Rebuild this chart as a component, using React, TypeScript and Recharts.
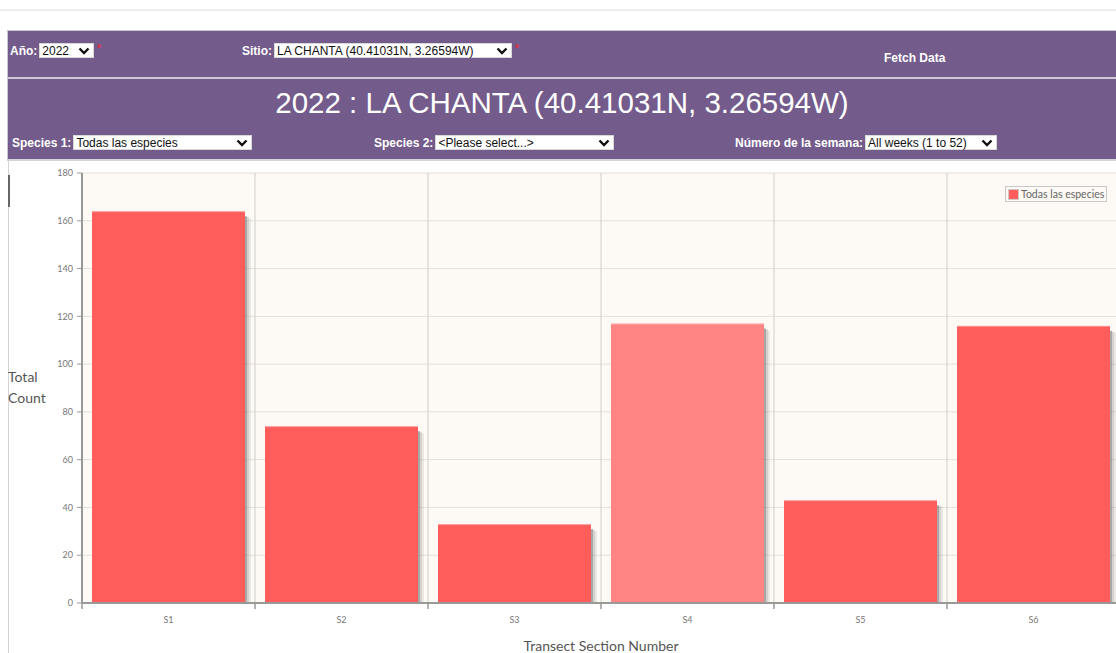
import React from "react";
import {
  BarChart,
  Bar,
  XAxis,
  YAxis,
  CartesianGrid,
  Cell,
} from "recharts";

const sections = ["S1", "S2", "S3", "S4", "S5", "S6"];
const totals = [164, 74, 33, 117, 43, 116];
const yTicks = [0, 20, 40, 60, 80, 100, 120, 140, 160, 180];
const seriesName = "Todas las especies";

const data = sections.map((s, i) => ({ section: s, total: totals[i] }));

const PURPLE = "#735b8b";
const BAR = "#ff5c5c";
const BAR_HI = "#ff8585";

const Select = ({ w, text }: { w: number; text: string }) => (
  <div
    style={{
      display: "inline-flex",
      alignItems: "center",
      justifyContent: "space-between",
      width: w,
      height: 15,
      marginLeft: 2,
      background: "#fff",
      border: "1px solid #d8d8d8",
      boxSizing: "border-box",
      padding: "0 3px 0 2px",
      fontSize: 12,
      color: "#111",
      fontWeight: "normal",
    }}
  >
    <span style={{ whiteSpace: "nowrap" }}>{text}</span>
    <svg width="12" height="8" viewBox="0 0 12 8">
      <path d="M1.5 1.5 L6 6 L10.5 1.5" stroke="#111" strokeWidth="2.4" fill="none" />
    </svg>
  </div>
);

const Star = () => (
  <span style={{ color: "#e0304a", fontSize: 10, marginLeft: 3, alignSelf: "flex-start" }}>*</span>
);

const label: React.CSSProperties = {
  position: "absolute",
  color: "#fff",
  fontWeight: "bold",
  fontSize: 12,
  display: "flex",
  alignItems: "center",
  whiteSpace: "nowrap",
};

const ShadowBar = (props: any) => {
  const { x, y, width, height, fill } = props;
  if (!height || height <= 0) return null;
  const right = x + width;
  return (
    <g>
      <rect x={right} y={y + 5} width={2} height={height - 5} fill="#555" opacity={0.5} />
      <rect x={right + 2} y={y + 6} width={2} height={height - 6} fill="#777" opacity={0.3} />
      <rect x={right + 4} y={y + 7} width={2} height={height - 7} fill="#999" opacity={0.18} />
      <rect x={x} y={y} width={width} height={height} fill={fill} />
      <line x1={x} x2={right} y1={y + 0.5} y2={y + 0.5} stroke="#fff" strokeOpacity={0.35} />
    </g>
  );
};

const EdgeTick = (props: any) => {
  const { x, y, payload } = props;
  const off = payload.offset || 0;
  const axisY = y - 14;
  return (
    <g>
      <line x1={x - off} x2={x - off} y1={axisY} y2={axisY + 6} stroke="#999" strokeWidth={1.5} />
      <text
        x={x}
        y={y}
        dy="0.71em"
        textAnchor="middle"
        fontSize={9}
        fill="#777"
        fontFamily="Lato, sans-serif"
      >
        {payload.value}
      </text>
    </g>
  );
};

export default function App() {
  return (
    <div
      style={{
        position: "absolute",
        left: 0,
        top: 0,
        width: 1116,
        height: 653,
        overflow: "hidden",
        background: "#fff",
        fontFamily: "Arial, 'Liberation Sans', sans-serif",
      }}
    >
      <div style={{ position: "absolute", left: 0, top: 9, width: 1116, height: 2, background: "#eeeeee" }} />

      {/* header panel */}
      <div
        style={{
          position: "absolute",
          left: 7,
          top: 30,
          width: 1112,
          height: 131,
          background: PURPLE,
          borderTop: "1px solid #c9c4cf",
          borderLeft: "1px solid #c9c4cf",
          borderBottom: "2px solid #d6d2da",
          boxSizing: "border-box",
        }}
      />
      <div style={{ position: "absolute", left: 8, top: 77, width: 1110, height: 2, background: "#cfc8d8" }} />

      <div style={{ ...label, left: 10, top: 43 }}>
        Año:<Select w={55} text="2022" />
        <Star />
      </div>
      <div style={{ ...label, left: 242, top: 43 }}>
        Sitio:<Select w={238} text="LA CHANTA (40.41031N, 3.26594W)" />
        <Star />
      </div>
      <div style={{ ...label, left: 884, top: 51 }}>Fetch Data</div>

      <div
        style={{
          position: "absolute",
          left: 8,
          top: 85,
          width: 1108,
          textAlign: "center",
          color: "#fff",
          fontSize: 29.5,
          lineHeight: "36px",
          whiteSpace: "nowrap",
        }}
      >
        2022 : LA CHANTA (40.41031N, 3.26594W)
      </div>

      <div style={{ ...label, left: 12, top: 135 }}>
        Species 1:<Select w={179} text="Todas las especies" />
      </div>
      <div style={{ ...label, left: 374, top: 135 }}>
        Species 2:<Select w={179} text="<Please select...>" />
      </div>
      <div style={{ ...label, left: 735, top: 135 }}>
        Número de la semana:<Select w={132} text="All weeks (1 to 52)" />
      </div>

      {/* chart container border */}
      <div style={{ position: "absolute", left: 8, top: 161, width: 1, height: 492, background: "#d4d4d4" }} />
      <div style={{ position: "absolute", left: 8, top: 175, width: 2, height: 32, background: "#666" }} />

      <div
        style={{
          position: "absolute",
          left: 8,
          top: 366,
          fontSize: 14,
          lineHeight: "21px",
          color: "#555",
          fontFamily: "Lato, sans-serif",
        }}
      >
        Total
        <br />
        Count
      </div>

      <div style={{ position: "absolute", left: 0, top: 163 }}>
        <BarChart
          width={1125}
          height={490}
          data={data}
          margin={{ top: 10, right: 5, bottom: 0, left: 0 }}
          barCategoryGap={10}
        >
          <CartesianGrid
            vertical={false}
            stroke="#e4e1db"
            fill="#fdf9f4"
            fillOpacity={1}
          />
          <CartesianGrid
            horizontal={false}
            stroke="#cfcfcb"
            verticalCoordinatesGenerator={({ offset }: any) =>
              sections.map((_, i) => offset.left + (i * offset.width) / sections.length)
            }
          />
          <XAxis
            dataKey="section"
            height={50}
            tickLine={false}
            tickSize={6}
            tickMargin={8}
            axisLine={{ stroke: "#999", strokeWidth: 2 }}
            tick={<EdgeTick />}
            interval={0}
            label={{
              value: "Transect Section Number",
              position: "insideBottom",
              offset: 2,
              fill: "#555",
              fontSize: 14,
              fontFamily: "Lato, sans-serif",
            }}
          />
          <YAxis
            width={82}
            domain={[0, 180]}
            ticks={yTicks}
            interval={0}
            tickSize={5}
            tickMargin={4}
            tickLine={{ stroke: "#999" }}
            axisLine={{ stroke: "#999", strokeWidth: 2 }}
            tick={{ fontSize: 9, fill: "#777", fontFamily: "Lato, sans-serif" }}
          />
          <Bar
            dataKey="total"
            name={seriesName}
            fill={BAR}
            shape={<ShadowBar />}
            isAnimationActive={false}
          >
            {data.map((d, i) => (
              <Cell key={d.section} fill={i === 3 ? BAR_HI : BAR} />
            ))}
          </Bar>
        </BarChart>
      </div>

      {/* legend */}
      <div
        style={{
          position: "absolute",
          left: 1005,
          top: 186,
          height: 16,
          display: "flex",
          alignItems: "center",
          border: "1px solid #c8c8c8",
          background: "#fdf9f4",
          boxSizing: "border-box",
          padding: "0 2px",
          fontSize: 10.5,
          color: "#666",
          fontFamily: "Lato, sans-serif",
          whiteSpace: "nowrap",
        }}
      >
        <span
          style={{
            width: 11,
            height: 11,
            background: BAR,
            border: "1px solid #ccc",
            marginRight: 2,
            boxSizing: "border-box",
          }}
        />
        {seriesName}
      </div>
    </div>
  );
}
